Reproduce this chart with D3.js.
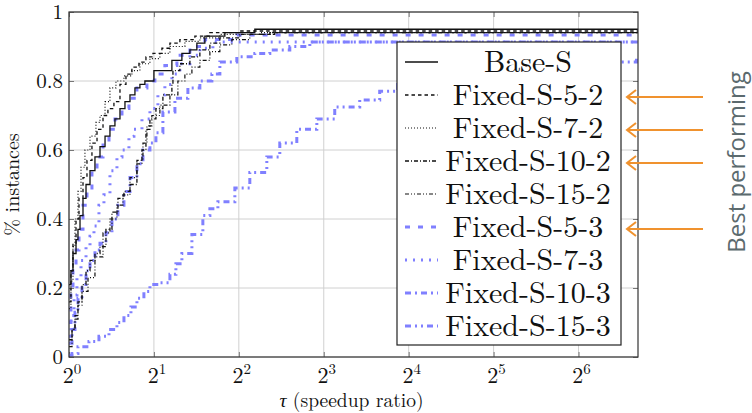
<!DOCTYPE html>
<html>
<head>
<meta charset="utf-8">
<script src="https://cdn.jsdelivr.net/npm/d3@7"></script>
<style>
  body { margin: 0; background: #fff; }
</style>
</head>
<body>
<div id="chart"></div>
<script>
// ---------- data (tau, fraction of instances) ----------
var baseS = [[1.00,0.21],[1.016,0.25],[1.033,0.30],[1.059,0.34],[1.076,0.37],[1.094,0.41],[1.121,0.46],[1.149,0.50],[1.187,0.54],[1.236,0.58],[1.288,0.61],[1.342,0.64],[1.397,0.67],[1.455,0.69],[1.516,0.72],[1.579,0.74],[1.645,0.76],[1.713,0.78],[1.784,0.79],[1.858,0.80],[2.0,0.83],[2.316,0.86],[2.513,0.88],[2.683,0.89],[2.84,0.91],[3.031,0.93],[3.569,0.94],[4.557,0.95],[104,0.95]];
var fixed52 = [[1.00,0.16],[1.016,0.25],[1.033,0.33],[1.059,0.40],[1.085,0.46],[1.121,0.52],[1.158,0.57],[1.206,0.62],[1.257,0.66],[1.32,0.70],[1.374,0.72],[1.443,0.74],[1.516,0.79],[1.592,0.82],[1.671,0.84],[1.77,0.855],[1.874,0.87],[1.984,0.88],[2.135,0.895],[2.279,0.91],[2.472,0.92],[2.794,0.93],[3.158,0.94],[4.033,0.945],[104,0.945]];
var fixed72 = [[1.00,0.14],[1.016,0.22],[1.033,0.32],[1.05,0.40],[1.076,0.48],[1.103,0.55],[1.139,0.60],[1.187,0.64],[1.246,0.68],[1.288,0.70],[1.342,0.74],[1.397,0.78],[1.467,0.80],[1.566,0.815],[1.671,0.83],[1.784,0.85],[1.936,0.865],[2.1,0.88],[2.279,0.90],[2.575,0.915],[2.91,0.925],[3.426,0.935],[4.747,0.94],[104,0.94]];
var fixed102 = [[1.00,0.05],[1.025,0.08],[1.05,0.11],[1.076,0.16],[1.112,0.21],[1.149,0.25],[1.187,0.28],[1.236,0.30],[1.288,0.32],[1.352,0.37],[1.42,0.42],[1.491,0.46],[1.566,0.48],[1.645,0.50],[1.741,0.56],[1.814,0.60],[1.874,0.66],[1.936,0.69],[2.033,0.72],[2.152,0.76],[2.316,0.79],[2.336,0.83],[2.472,0.85],[2.683,0.87],[2.91,0.89],[3.158,0.91],[3.426,0.925],[4.033,0.935],[5.15,0.94],[104,0.94]];
var fixed152 = [[1.00,0.03],[1.025,0.08],[1.05,0.12],[1.076,0.15],[1.112,0.19],[1.168,0.23],[1.236,0.29],[1.32,0.36],[1.397,0.40],[1.479,0.44],[1.553,0.47],[1.645,0.52],[1.741,0.57],[1.829,0.62],[1.889,0.67],[1.967,0.70],[2.1,0.73],[2.279,0.76],[2.432,0.80],[2.575,0.82],[2.727,0.84],[2.91,0.86],[3.158,0.885],[3.426,0.905],[3.778,0.92],[4.375,0.935],[5.36,0.94],[104,0.94]];
var fixed53 = [[1.00,0.10],[1.016,0.18],[1.033,0.25],[1.059,0.31],[1.085,0.37],[1.121,0.44],[1.158,0.49],[1.206,0.54],[1.257,0.58],[1.32,0.62],[1.386,0.66],[1.455,0.69],[1.541,0.72],[1.631,0.75],[1.741,0.78],[1.889,0.80],[2.016,0.82],[2.187,0.845],[2.413,0.875],[2.683,0.90],[3.031,0.92],[3.934,0.933],[104,0.933]];
var fixed73 = [[1.00,0.06],[1.016,0.12],[1.042,0.18],[1.067,0.23],[1.103,0.28],[1.149,0.32],[1.187,0.35],[1.226,0.38],[1.277,0.44],[1.33,0.47],[1.397,0.54],[1.479,0.58],[1.541,0.60],[1.631,0.64],[1.699,0.66],[1.814,0.69],[1.936,0.72],[2.066,0.76],[2.187,0.79],[2.316,0.82],[2.472,0.85],[2.683,0.875],[2.91,0.895],[3.236,0.913],[104,0.913]];
var fixed103 = [[1.00,0.04],[1.025,0.08],[1.05,0.13],[1.076,0.17],[1.112,0.21],[1.149,0.25],[1.187,0.28],[1.236,0.31],[1.288,0.33],[1.352,0.36],[1.42,0.40],[1.491,0.44],[1.566,0.48],[1.645,0.52],[1.741,0.56],[1.829,0.60],[1.936,0.62],[2.033,0.65],[2.152,0.71],[2.374,0.75],[2.639,0.78],[2.91,0.80],[3.21,0.82],[3.426,0.855],[3.934,0.87],[4.557,0.88],[5.15,0.89],[6.063,0.90],[7.14,0.913],[104,0.913]];
var fixed153 = [[1.00,0.005],[1.025,0.01],[1.076,0.03],[1.177,0.045],[1.277,0.06],[1.386,0.08],[1.479,0.10],[1.566,0.12],[1.658,0.145],[1.741,0.17],[1.843,0.19],[1.936,0.21],[2.1,0.215],[2.279,0.24],[2.393,0.27],[2.513,0.30],[2.727,0.355],[2.982,0.41],[3.158,0.43],[3.371,0.45],[3.872,0.49],[4.375,0.535],[5.026,0.58],[5.588,0.62],[6.42,0.66],[7.56,0.69],[8.75,0.725],[10.73,0.745],[12.63,0.77],[14.63,0.79],[22.35,0.82],[39.56,0.84],[64.5,0.855],[102.7,0.866],[104,0.866]];

var seriesNames = ["Base-S","Fixed-S-5-2","Fixed-S-7-2","Fixed-S-10-2","Fixed-S-15-2","Fixed-S-5-3","Fixed-S-7-3","Fixed-S-10-3","Fixed-S-15-3"];
var seriesData = [baseS, fixed52, fixed72, fixed102, fixed152, fixed53, fixed73, fixed103, fixed153];
var xTickExp = [0,1,2,3,4,5,6];
var yTicks = [0,0.2,0.4,0.6,0.8,1];
var bestRows = ["Fixed-S-5-2","Fixed-S-7-2","Fixed-S-10-2","Fixed-S-5-3"];

// ---------- styles ----------
var serif = "'Latin Modern Roman'";
var blue = "#8080ff";
var styles = [
  {color:"#111", width:1.3, dash:null},
  {color:"#111", width:1.3, dash:"3.5,3"},
  {color:"#111", width:1.2, dash:"1,2"},
  {color:"#111", width:1.3, dash:"4,2,1,2"},
  {color:"#111", width:1.2, dash:"4,2,1,2,1,2"},
  {color:blue, width:3, dash:"5,8"},
  {color:blue, width:3, dash:"2,6"},
  {color:blue, width:3, dash:"6,4,2,4"},
  {color:blue, width:3, dash:"6,4,2,4,2,4"}
];

var W = 752, H = 413;
var margin = {top: 12, right: 114, bottom: 56, left: 69};
var width = W - margin.left - margin.right,
    height = H - margin.top - margin.bottom;

var svgRoot = d3.select("#chart").append("svg").attr("width", W).attr("height", H);
var svg = svgRoot.append("g").attr("transform", "translate(" + margin.left + "," + margin.top + ")");

var xScale = d3.scaleLog().base(2).domain([1, 104]).range([0, width]);
var yScale = d3.scaleLinear().domain([0, 1]).range([height, 0]);

// grid
svg.append("g").selectAll("line").data(xTickExp).enter().append("line")
  .attr("x1", function(d){ return xScale(Math.pow(2,d)); })
  .attr("x2", function(d){ return xScale(Math.pow(2,d)); })
  .attr("y1", 0).attr("y2", height)
  .attr("stroke", "#d0d0d0").attr("stroke-width", 1);
svg.append("g").selectAll("line").data(yTicks).enter().append("line")
  .attr("y1", function(d){ return yScale(d); })
  .attr("y2", function(d){ return yScale(d); })
  .attr("x1", 0).attr("x2", width)
  .attr("stroke", "#d0d0d0").attr("stroke-width", 1);

// ticks inside on all sides
var xTickVals = xTickExp.map(function(e){ return Math.pow(2,e); });
var xAxisB = d3.axisBottom(xScale).tickValues(xTickVals).tickSize(-5).tickFormat("");
var xAxisT = d3.axisTop(xScale).tickValues(xTickVals).tickSize(-5).tickFormat("");
var yAxisL = d3.axisLeft(yScale).tickValues(yTicks).tickSize(-5).tickFormat("");
var yAxisR = d3.axisRight(yScale).tickValues(yTicks).tickSize(-5).tickFormat("");
[[xAxisB,"translate(0,"+height+")"],[xAxisT,"translate(0,0)"],[yAxisL,"translate(0,0)"],[yAxisR,"translate("+width+",0)"]].forEach(function(a){
  var g = svg.append("g").attr("transform", a[1]).call(a[0]);
  g.select(".domain").remove();
  g.selectAll(".tick line").attr("stroke", "#777");
});

// clip
svg.append("clipPath").attr("id","plotclip").append("rect").attr("width", width).attr("height", height);

var line = d3.line()
  .x(function(d){ return xScale(d[0]); })
  .y(function(d){ return yScale(d[1]); })
  .curve(d3.curveStepAfter);

var plotG = svg.append("g").attr("clip-path","url(#plotclip)");
// blue ones underneath the black ones
[8,7,6,5,4,3,2,1,0].forEach(function(i){
  plotG.append("path").datum(seriesData[i])
    .attr("d", line)
    .attr("fill","none")
    .attr("stroke", styles[i].color)
    .attr("stroke-width", styles[i].width)
    .attr("stroke-dasharray", styles[i].dash);
});

// frame
svg.append("rect").attr("width", width).attr("height", height)
  .attr("fill","none").attr("stroke","#333").attr("stroke-width",1.2);

// tick labels
svg.selectAll("text.ylab").data(yTicks).enter().append("text")
  .attr("class","ylab")
  .attr("x", -6).attr("y", function(d){ return yScale(d) + 7; })
  .attr("text-anchor","end").style("font-family", serif).attr("font-size", 21).attr("fill","#111")
  .text(function(d){ return d === 0 || d === 1 ? String(d) : d.toFixed(1); });

var xl = svg.selectAll("text.xlab").data(xTickExp).enter().append("text")
  .attr("class","xlab")
  .attr("x", function(d){ return xScale(Math.pow(2,d)) + 3; })
  .attr("y", height + 26)
  .attr("text-anchor","middle").style("font-family", serif).attr("font-size", 22).attr("fill","#111");
xl.append("tspan").text("2");
xl.append("tspan").attr("dy", -9).attr("font-size", 15).text(function(d){ return d; });

// axis titles
svg.append("text").attr("x", width/2 - 2).attr("y", height + 50)
  .attr("text-anchor","middle").style("font-family", serif).attr("font-size", 19.5).attr("fill","#111")
  .call(function(t){
    t.append("tspan").attr("font-style","italic").text("τ");
    t.append("tspan").text(" (speedup ratio)");
  });
svg.append("text")
  .attr("transform","translate(" + (-50) + "," + (height/2) + ") rotate(-90)")
  .attr("text-anchor","middle").style("font-family", serif).attr("font-size", 20).attr("fill","#111")
  .text("% instances");

// legend
var lg = { x: 397 - margin.left, y: 42 - margin.top, w: 224, h: 303, row: 33, first: 20 };
var legend = svg.append("g").attr("transform","translate(" + lg.x + "," + lg.y + ")");
legend.append("rect").attr("width", lg.w).attr("height", lg.h)
  .attr("fill","#fff").attr("stroke","#222").attr("stroke-width",1.2);
seriesNames.forEach(function(name, i){
  var cy = lg.first + i * lg.row;
  legend.append("line").attr("x1", 8).attr("x2", 41).attr("y1", cy).attr("y2", cy)
    .attr("stroke", styles[i].color).attr("stroke-width", styles[i].width)
    .attr("stroke-dasharray", styles[i].dash);
  legend.append("text").attr("x", 131).attr("y", cy + 10)
    .attr("text-anchor","middle").style("font-family", serif).attr("font-size", 30).attr("fill","#111")
    .text(name);
});

// annotation arrows
var orange = "#f0922e";
var ann = svgRoot.append("g");
bestRows.forEach(function(name){
  var i = seriesNames.indexOf(name);
  var cy = lg.y + margin.top + lg.first + i * lg.row + 2;
  ann.append("line").attr("x1", 703).attr("x2", 628).attr("y1", cy).attr("y2", cy)
    .attr("stroke", orange).attr("stroke-width", 2);
  ann.append("path").attr("d", "M636," + (cy - 7) + " L627," + cy + " L636," + (cy + 7))
    .attr("fill","none").attr("stroke", orange).attr("stroke-width", 2);
});
ann.append("text")
  .attr("transform","translate(745,162) rotate(-90)")
  .attr("text-anchor","middle")
  .style("font-family", "'Open Sans', sans-serif")
  .attr("font-size", 24).attr("fill","#5b6a6e")
  .text("Best performing");
</script>
</body>
</html>
